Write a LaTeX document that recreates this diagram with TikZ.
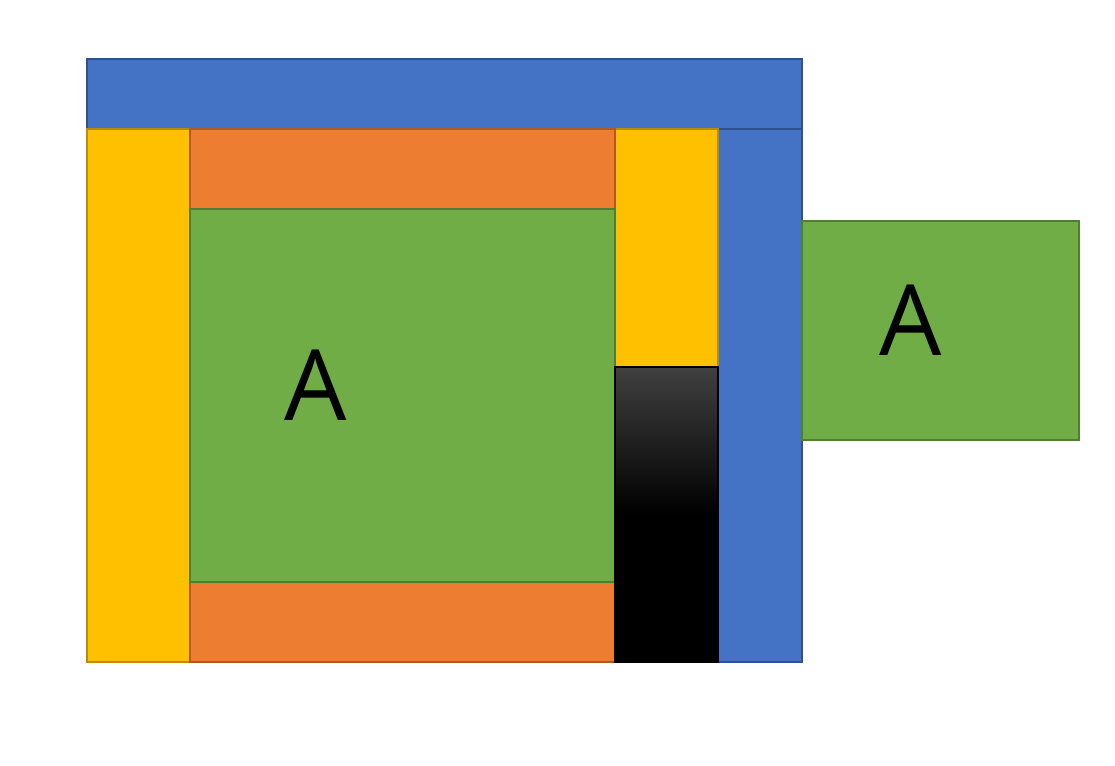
\documentclass[tikz,border=0pt]{standalone}
\usepackage{fontspec}
\setsansfont{Open Sans}
\definecolor{barblue}{HTML}{4472C4}
\definecolor{barblueline}{HTML}{2F528F}
\definecolor{baryellow}{HTML}{FFC000}
\definecolor{baryellowline}{HTML}{BC8C00}
\definecolor{barorange}{HTML}{ED7D31}
\definecolor{barorangeline}{HTML}{AE5A21}
\definecolor{bargreen}{HTML}{70AD47}
\definecolor{bargreenline}{HTML}{507E32}
\definecolor{bargray}{HTML}{404040}
\begin{document}
\begin{tikzpicture}[
    x=0.025cm, y=-0.025cm,
    bluebar/.style={fill=barblue, draw=barblueline, line width=0.8pt},
    yellowbar/.style={fill=baryellow, draw=baryellowline, line width=0.8pt},
    orangebar/.style={fill=barorange, draw=barorangeline, line width=0.8pt},
    greenbar/.style={fill=bargreen, draw=bargreenline, line width=0.8pt},
    letter/.style={font=\sffamily\fontsize{70}{70}\selectfont, inner sep=0pt},
]
    \useasboundingbox (0,0) rectangle (1115,766);

    % Outer blue frame
    \draw[bluebar] (87,59) rectangle (802,129);
    \draw[bluebar] (718,129) rectangle (802,662);

    % Left and right yellow
    \draw[yellowbar] (87,129) rectangle (190,662);
    \draw[yellowbar] (615,129) rectangle (718,367);

    % Orange top and bottom
    \draw[orangebar] (190,129) rectangle (615,209);
    \draw[orangebar] (190,582) rectangle (615,662);

    % Green centre
    \draw[greenbar] (190,209) rectangle (615,582);
    \node[letter] (inner) at (316,385) {A};

    % Dark block
    \shade[top color=bargray, bottom color=black, middle color=black] (615,367) rectangle (718,662);
    \draw[black, line width=0.8pt] (615,367) rectangle (718,662);

    % Green outside
    \draw[greenbar] (802,221) rectangle (1079,440);
    \node[letter] (outer) at (911,320) {A};
\end{tikzpicture}
\end{document}
